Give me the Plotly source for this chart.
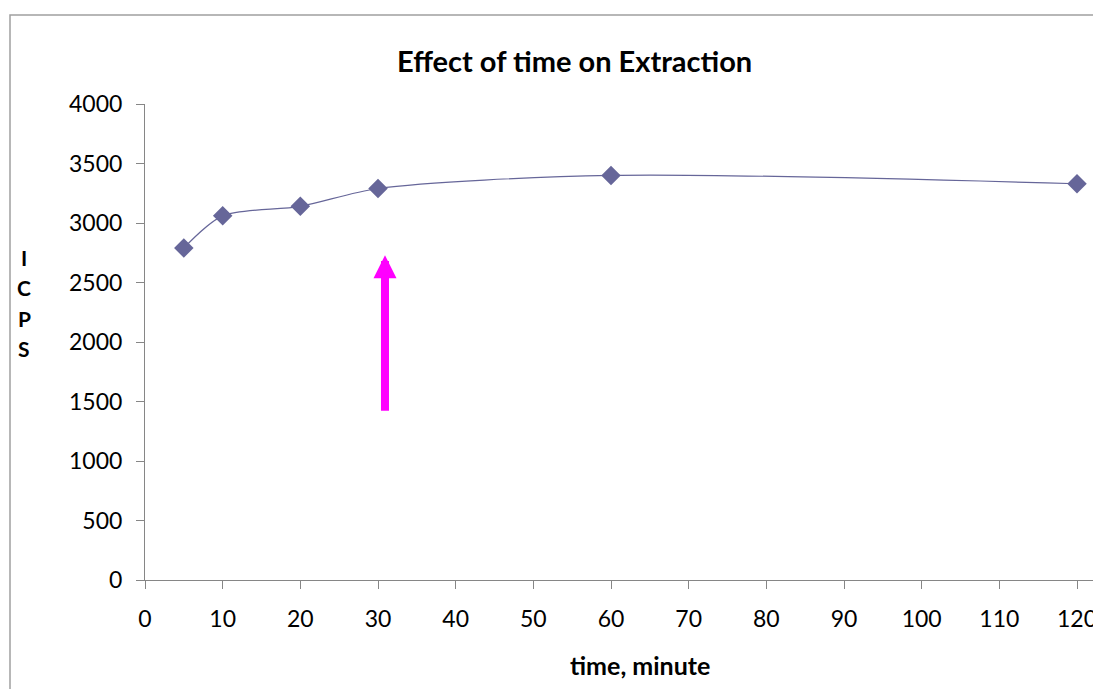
import plotly.graph_objects as go

time_min = [5, 10, 20, 30, 60, 120]
icps = [2790, 3060, 3140, 3290, 3400, 3330]
x_ticks = [0, 10, 20, 30, 40, 50, 60, 70, 80, 90, 100, 110, 120]
y_ticks = [0, 500, 1000, 1500, 2000, 2500, 3000, 3500, 4000]
y_title_letters = ["I", "C", "P", "S"]
arrow_x = 30.9
arrow_from = 1410
arrow_to = 2730

FONT = "Lato"
AX = "#868686"

# page pixel -> paper coords (plot area spans page x 145..1093, y 104..580)
def px(X):
    return (X - 145) / 948

def py(Y):
    return (580 - Y) / 476

fig = go.Figure()
fig.add_trace(go.Scatter(
    x=time_min, y=icps, mode="lines+markers",
    line=dict(color="#666699", width=1.2, shape="spline", smoothing=0.8),
    marker=dict(symbol="diamond", size=15, color="#666699"),
    cliponaxis=False, showlegend=False,
))

annotations = [
    dict(text="<b>Effect of time on Extraction</b>", xref="paper", yref="paper",
         x=px(574), y=py(60), xanchor="center", yanchor="middle",
         showarrow=False, font=dict(size=29, family=FONT)),
    dict(text="<b>time, minute</b>", xref="paper", yref="paper",
         x=px(640), y=py(665), xanchor="center", yanchor="middle",
         showarrow=False, font=dict(size=25, family=FONT)),
    dict(x=arrow_x, y=arrow_to, ax=arrow_x, ay=arrow_from, xref="x", yref="y",
         axref="x", ayref="y", text="", showarrow=True, arrowhead=2,
         arrowsize=0.575, arrowwidth=8, arrowcolor="#FF00FF", standoff=0),
]
for i, letter in enumerate(y_title_letters):
    annotations.append(dict(text="<b>%s</b>" % letter, xref="paper", yref="paper",
                            x=px(24), y=py(257 + 30.5 * i), xanchor="center", yanchor="middle",
                            showarrow=False, font=dict(size=21, family=FONT)))

fig.update_layout(
    width=1093, height=689,
    margin=dict(l=145, r=0, t=104, b=109, autoexpand=False),
    paper_bgcolor="white", plot_bgcolor="white",
    font=dict(family=FONT, size=23, color="black"),
    xaxis=dict(range=[0, 122.06], tickvals=x_ticks, showgrid=False, zeroline=False,
               showline=True, linecolor=AX, linewidth=1, ticks="outside",
               tickcolor=AX, ticklen=8, tickfont=dict(size=23, family=FONT),
               ticklabelstandoff=10, ticklabeloverflow="allow", automargin=False),
    yaxis=dict(range=[0, 4000], tickvals=y_ticks, showgrid=False, zeroline=False,
               showline=True, linecolor=AX, linewidth=1, ticks="outside",
               tickcolor=AX, ticklen=8, tickfont=dict(size=23, family=FONT),
               ticklabelstandoff=9, automargin=False),
    shapes=[dict(type="rect", xref="paper", yref="paper",
                 x0=px(10), x1=1.2, y0=-0.5, y1=py(15),
                 line=dict(color="#A0A0A0", width=1.5), layer="below")],
    annotations=annotations,
)

fig.write_html("out.html", config={"displayModeBar": False},
               post_script="document.body.style.margin='0';document.body.style.overflow='hidden';")
